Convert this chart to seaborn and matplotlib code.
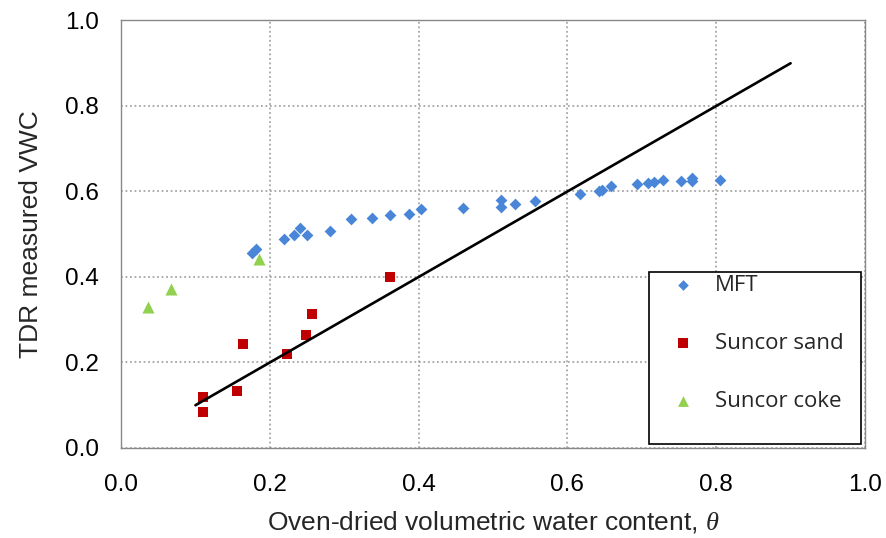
import matplotlib
matplotlib.use("Agg")
import matplotlib.pyplot as plt
from matplotlib.patches import Rectangle
import seaborn as sns
import pandas as pd

# Oven-dried volumetric water content vs. TDR reading, per material
mft_theta = [0.176, 0.181, 0.219, 0.233, 0.241, 0.250, 0.281, 0.309, 0.338, 0.361,
             0.387, 0.403, 0.459, 0.511, 0.511, 0.530, 0.557, 0.617, 0.642, 0.647,
             0.658, 0.694, 0.708, 0.717, 0.728, 0.753, 0.768, 0.768, 0.805]
mft_tdr = [0.455, 0.465, 0.489, 0.498, 0.514, 0.498, 0.508, 0.535, 0.537, 0.545,
           0.547, 0.558, 0.561, 0.580, 0.564, 0.571, 0.578, 0.595, 0.600, 0.603,
           0.613, 0.618, 0.619, 0.622, 0.628, 0.625, 0.631, 0.625, 0.628]

sand_theta = [0.110, 0.110, 0.156, 0.164, 0.223, 0.249, 0.257, 0.362]
sand_tdr = [0.119, 0.085, 0.133, 0.244, 0.220, 0.265, 0.313, 0.400]

coke_theta = [0.036, 0.067, 0.186]
coke_tdr = [0.329, 0.371, 0.442]

# 1:1 reference line
line_x = [0.1, 0.9]
line_y = [0.1, 0.9]

materials = ["MFT", "Suncor sand", "Suncor coke"]
colors = {"MFT": "#4A86D8", "Suncor sand": "#C00000", "Suncor coke": "#92D050"}
markers = {"MFT": "D", "Suncor sand": "s", "Suncor coke": "^"}
sizes = {"MFT": 36, "Suncor sand": 57, "Suncor coke": 75}

df = pd.DataFrame({
    "theta": mft_theta + sand_theta + coke_theta,
    "tdr": mft_tdr + sand_tdr + coke_tdr,
    "material": (["MFT"] * len(mft_theta) + ["Suncor sand"] * len(sand_theta)
                 + ["Suncor coke"] * len(coke_theta)),
})

sns.set_style("white")
plt.rcParams["font.family"] = ["Liberation Sans", "DejaVu Sans"]
plt.rcParams["mathtext.fontset"] = "custom"
plt.rcParams["mathtext.it"] = "Liberation Serif:italic"

fig = plt.figure(figsize=(8.86, 5.38), dpi=100)
ax = fig.add_axes([0.1366, 0.1673, 0.8397, 0.7946])

for m in materials:
    sub = df[df["material"] == m]
    sns.scatterplot(data=sub, x="theta", y="tdr", ax=ax, color=colors[m],
                    marker=markers[m], s=sizes[m], linewidth=0, label=m, zorder=3)

sns.lineplot(x=line_x, y=line_y, ax=ax, color="black", linewidth=1.9, zorder=4,
             label="_nolegend_")

ax.set_xlim(0, 1.0)
ax.set_ylim(0, 1.0)
ticks = [0.0, 0.2, 0.4, 0.6, 0.8, 1.0]
ax.set_xticks(ticks)
ax.set_yticks(ticks)
ax.set_xticklabels([f"{t:.1f}" for t in ticks])
ax.set_yticklabels([f"{t:.1f}" for t in ticks])
ax.grid(True, color="#A6A6A6", linestyle=(0, (1.0, 1.5)), linewidth=1.3)
ax.set_axisbelow(True)
for sp in ax.spines.values():
    sp.set_color("#888888")
    sp.set_linewidth(1.0)
ax.tick_params(axis="both", labelsize=17.5, colors="#888888", labelcolor="black",
               length=3, width=1.0)
ax.tick_params(axis="x", direction="in", pad=19)
ax.tick_params(axis="y", direction="out", pad=13)

ax.set_xlabel("Oven-dried volumetric water content, $\\mathit{\\theta}$",
              fontsize=19, labelpad=9)
ax.set_ylabel("TDR measured VWC", fontsize=19, labelpad=16)

# legend box drawn as its own frame, entries placed inside it
ax.add_patch(Rectangle((0.7097, 0.0094), 0.2849, 0.4023, transform=ax.transAxes,
                       facecolor="white", edgecolor="black", linewidth=1.2,
                       zorder=5))
leg = ax.legend(loc="upper left", bbox_to_anchor=(0.7406, 0.404),
                frameon=False, borderpad=0, borderaxespad=0,
                labelspacing=1.65, handletextpad=0.95, handlelength=1.0,
                markerscale=0.9,
                prop={"family": "Open Sans", "size": 16})
leg.set_zorder(6)

fig.savefig("out.png", dpi=100)
